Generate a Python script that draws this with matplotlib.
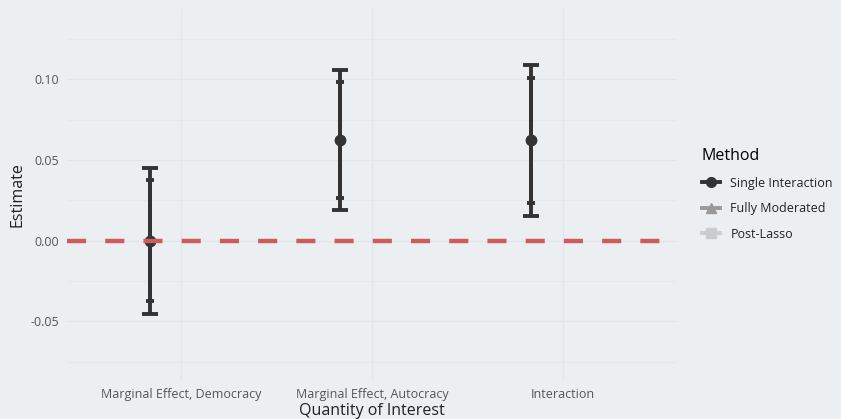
import matplotlib.pyplot as plt
from matplotlib.lines import Line2D

plt.rcParams['font.family'] = ['Open Sans', 'DejaVu Sans']

quantities = ["Marginal Effect, Democracy", "Marginal Effect, Autocracy", "Interaction"]
methods = ["Single Interaction", "Fully Moderated", "Post-Lasso"]
method_colors = ["#333333", "#999999", "#CCCCCC"]
method_markers = ["o", "^", "s"]

# Single Interaction estimates (the other methods are not shown in the panel)
estimate = [0.0, 0.0621, 0.0623]
ci90_low = [-0.0373, 0.0265, 0.0236]
ci90_high = [0.0373, 0.0983, 0.1010]
ci95_low = [-0.0453, 0.0188, 0.0155]
ci95_high = [0.0453, 0.1060, 0.1090]

bg = "#ECEFF1"
fig = plt.figure(figsize=(8.41, 4.19), dpi=100, facecolor=bg)
ax = fig.add_axes([67 / 841, 39 / 419, 610 / 841, 371 / 419], facecolor=bg)

xpos = [i + 1 - 1 / 6 for i in range(len(quantities))]

ax.errorbar(xpos, estimate,
            yerr=[[e - l for e, l in zip(estimate, ci95_low)],
                  [h - e for e, h in zip(estimate, ci95_high)]],
            fmt="none", ecolor="#333333", elinewidth=2.8, capsize=5.8, capthick=2.8, zorder=3)
ax.errorbar(xpos, estimate,
            yerr=[[e - l for e, l in zip(estimate, ci90_low)],
                  [h - e for e, h in zip(estimate, ci90_high)]],
            fmt="none", ecolor="#333333", elinewidth=2.8, capsize=2.9, capthick=2.8, zorder=3)
ax.plot(xpos, estimate, "o", color="#333333", markersize=7.5, zorder=4)

ax.axhline(0, color="#CD5C5C", linewidth=3.2, linestyle=(0, (4.3, 4.3)), zorder=5)

ax.set_xlim(0.4, 3.6)
ax.set_ylim(-0.0863, 0.1435)
ax.set_xticks(range(1, 4))
ax.set_xticklabels(quantities)
ax.set_yticks([-0.05, 0.0, 0.05, 0.10])
ax.set_yticklabels(["-0.05", "0.00", "0.05", "0.10"])
ax.set_yticks([-0.075, -0.025, 0.025, 0.075, 0.125], minor=True)

ax.grid(True, which="major", color="#E3E6E8", linewidth=1.0)
ax.grid(True, which="minor", axis="y", color="#E5E8EA", linewidth=0.6)
ax.set_axisbelow(True)
for s in ax.spines.values():
    s.set_visible(False)
ax.tick_params(which="both", length=0, labelsize=9, labelcolor="#555555", pad=6)

ax.set_xlabel("Quantity of Interest", fontsize=11.5, color="#222222", labelpad=1)
ax.set_ylabel("Estimate", fontsize=11.5, color="#222222", labelpad=3)

handles = [Line2D([0], [0], color=c, marker=m, markersize=7, linewidth=2.8)
           for c, m in zip(method_colors, method_markers)]
leg = ax.legend(handles, methods, title="Method", loc="center left",
                bbox_to_anchor=(1.022, 0.50), frameon=False, fontsize=9,
                title_fontsize=11.5, handlelength=1.5, alignment="left",
                labelspacing=1.0)
for t in leg.get_texts():
    t.set_color("#222222")

fig.savefig("out.png", dpi=100, facecolor=bg)
